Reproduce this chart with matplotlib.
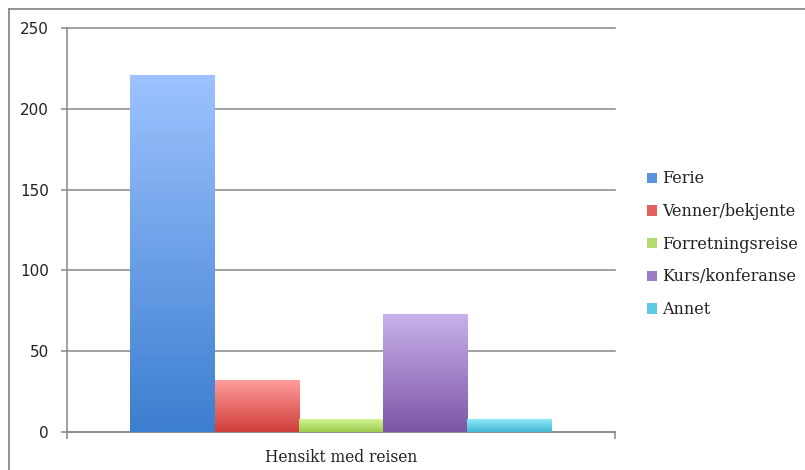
import numpy as np
import matplotlib
matplotlib.use("Agg")
import matplotlib.pyplot as plt
from matplotlib.colors import LinearSegmentedColormap
from matplotlib.patches import Patch
from matplotlib.lines import Line2D

# Data
category = "Hensikt med reisen"
series = ["Ferie", "Venner/bekjente", "Forretningsreise", "Kurs/konferanse", "Annet"]
values = [221, 32, 8, 73, 8]

# Gradient colours (top, bottom) for each series
top_colors = ["#9DC3FF", "#FF9D9B", "#D4F492", "#C9B1EB", "#8DEAF9"]
bottom_colors = ["#3C7ECF", "#CF3D3A", "#9BCB4F", "#7B56A6", "#47B7D4"]
legend_colors = ["#5B93DD", "#E4605D", "#B3DC6D", "#9C7BC5", "#5CCBE6"]

fig = plt.figure(figsize=(8.05, 4.70), dpi=100)
W, H = 805, 470
ax = fig.add_axes([67 / W, (H - 432) / H, 548 / W, 404 / H])

n = len(series)
width = 0.1537
offsets = (np.arange(n) - (n - 1) / 2) * width

for i in range(n):
    bars = ax.bar(offsets[i], values[i], width=width, color=legend_colors[i],
                  zorder=2, linewidth=0)
    patch = bars[0]
    x0 = offsets[i] - width / 2
    cmap = LinearSegmentedColormap.from_list(f"g{i}", [bottom_colors[i], top_colors[i]])
    grad = np.linspace(0, 1, 256).reshape(-1, 1)
    im = ax.imshow(grad, extent=[x0, x0 + width, 0, values[i]], origin="lower",
                   aspect="auto", cmap=cmap, zorder=3, interpolation="bilinear")
    im.set_clip_path(patch)

ax.set_xlim(-0.5, 0.5)
ax.set_ylim(0, 250)
ax.set_yticks([0, 50, 100, 150, 200, 250])

grid_color = "#888888"
ax.yaxis.grid(True, color=grid_color, linewidth=1.1, zorder=0)
for gl in ax.get_ygridlines():
    gl.set_clip_on(False)
ax.set_axisbelow(True)
for s in ["top", "right"]:
    ax.spines[s].set_visible(False)
for s in ["left", "bottom"]:
    ax.spines[s].set_color(grid_color)
    ax.spines[s].set_linewidth(1.1)

ax.tick_params(axis="y", length=4, width=1.1, color=grid_color, pad=9,
               labelsize=11, labelcolor="#222222")
ax.set_xticks([0])
ax.set_xticklabels([category], fontfamily="DejaVu Serif", fontsize=11.2, color="#222222")
ax.tick_params(axis="x", which="major", length=0, pad=12)
ax.set_xticks([-0.5, 0.5], minor=True)
ax.tick_params(axis="x", which="minor", length=5, width=1.1, color=grid_color,
               direction="out")

# Legend
handles = [Patch(facecolor=c, edgecolor="none") for c in legend_colors]
leg = fig.legend(handles, series, loc="upper left",
                 bbox_to_anchor=(641 / W, 1 - 164 / H), frameon=False,
                 prop={"family": "DejaVu Serif", "size": 11.5},
                 handlelength=0.62, handleheight=0.62, handletextpad=0.3,
                 labelspacing=0.98, borderaxespad=0)
for t in leg.get_texts():
    t.set_color("#222222")

# Outer chart frame
fig.add_artist(Line2D([9 / W, 1], [1 - 9 / H, 1 - 9 / H], color="#8a8a8a", linewidth=1.3,
                      transform=fig.transFigure))
fig.add_artist(Line2D([9 / W, 9 / W], [0, 1 - 9 / H], color="#8a8a8a", linewidth=1.3,
                      transform=fig.transFigure))

fig.savefig("out.png", dpi=100, facecolor="white")
